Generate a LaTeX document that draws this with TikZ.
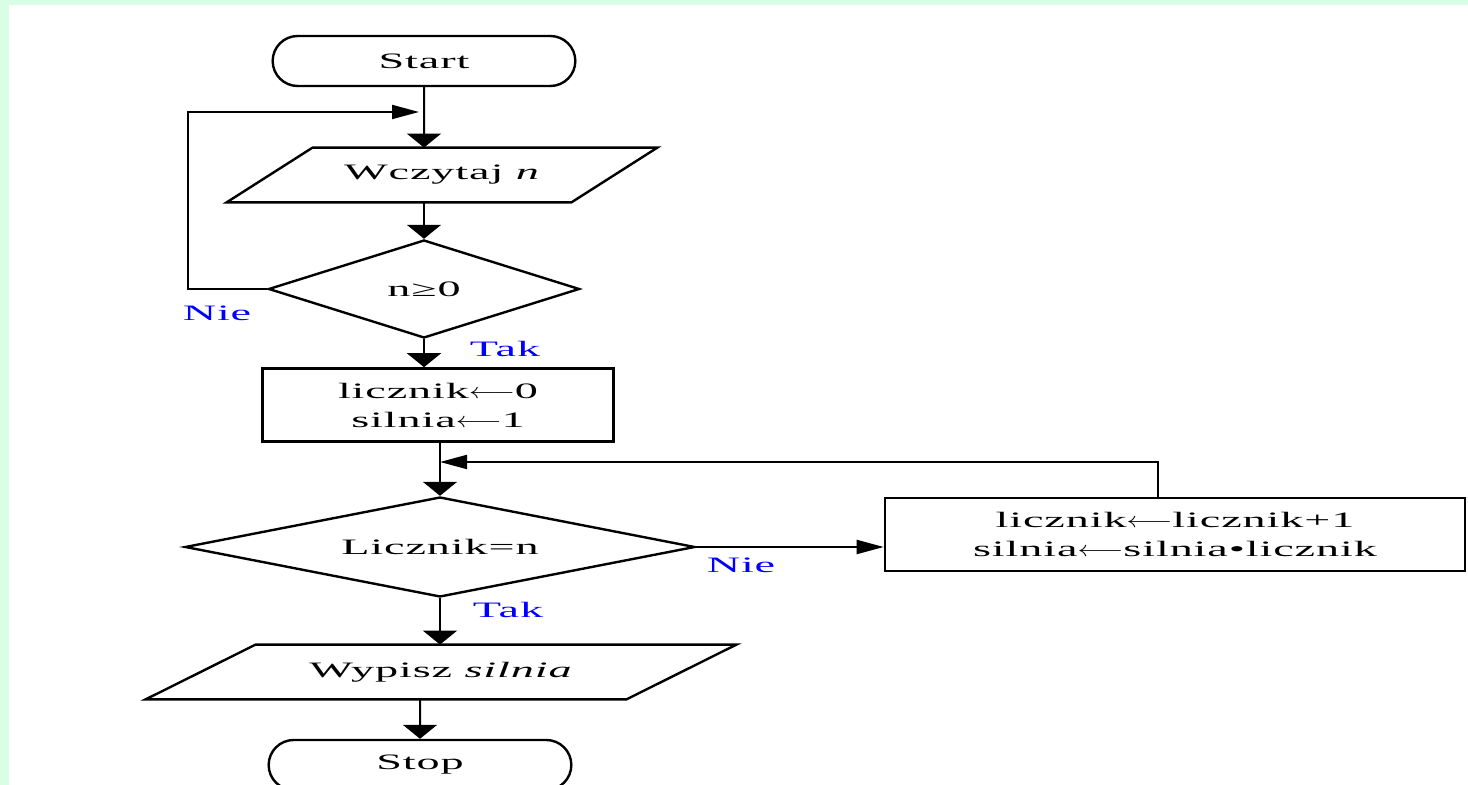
\documentclass[tikz,border=0pt]{standalone}
\usepackage{fontspec}
\setmainfont{Liberation Serif}[FakeStretch=2.1,LetterSpace=4]
\usetikzlibrary{shapes.geometric,shapes.misc,arrows.meta}
\definecolor{mint}{RGB}{216,255,229}
\newcommand{\przyp}{\scalebox{1.3}[1]{$\longleftarrow$}}

\tikzstyle{term}=[draw, rounded rectangle, line width=1.2pt, minimum width=158pt, minimum height=25pt]
\tikzstyle{io}=[minimum height=27pt, inner sep=0pt]
\tikzstyle{ramka}=[line width=1.2pt]
\tikzstyle{proc}=[draw, line width=1.3pt, align=center, minimum height=36.5pt, inner sep=0pt]
\tikzstyle{dec}=[draw, diamond, line width=1.2pt, inner sep=0pt]
\tikzstyle{lbl}=[text=blue]
\tikzstyle{lin}=[line width=1pt]
\tikzstyle{av}=[lin, -{Triangle[length=7pt,width=17pt]}]
\tikzstyle{ah}=[lin, -{Triangle[length=13.5pt,width=7pt]}]

\begin{document}
\begin{tikzpicture}[x=0.5pt, y=-0.5pt, font=\fontsize{11}{14.5}\selectfont]
\useasboundingbox (0,0) rectangle (1468,785);
\clip (0,0) rectangle (1468,785);
\fill[mint] (0,0) rectangle (1468,785);
\fill[white] (9,5) rectangle (1468,785);

\node[term] (start) at (424,61) {Start};
\node[io, minimum width=172pt] (wcz) at (442,175) {Wczytaj \textit{n}};
\draw[ramka] ([xshift=21.5pt]wcz.north west) -- ([xshift=21.5pt]wcz.north east)
  -- ([xshift=-21.5pt]wcz.south east) -- ([xshift=-21.5pt]wcz.south west) -- cycle;
\node[dec, aspect=3.2, minimum width=155.5pt, minimum height=49pt] (d1) at (424,289) {n≥0};
\node[proc, minimum width=175.5pt] (b1) at (438,405) {licznik\przyp0\\silnia\przyp1};
\node[dec, aspect=5.1, minimum width=255pt, minimum height=50pt] (d2) at (440,547) {Licznik=n};
\node[proc, minimum width=290pt] (b2) at (1175,534.5) {licznik\przyp licznik+1\\silnia\przyp silnia\textbullet licznik};
\node[io, minimum width=240pt] (wyp) at (441,672) {Wypisz \textit{silnia}};
\draw[ramka] ([xshift=27.5pt]wyp.north west) -- ([xshift=27.5pt]wyp.north east)
  -- ([xshift=-27.5pt]wyp.south east) -- ([xshift=-27.5pt]wyp.south west) -- cycle;
\node[term] (stop) at (420,765) {Stop};

\node[lbl] (nie1) at (217,313) {Nie};
\node[lbl] (tak1) at (505,349) {Tak};
\node[lbl] (nie2) at (741,565) {Nie};
\node[lbl] (tak2) at (508,610) {Tak};

\coordinate (j1) at (419,112);
\coordinate (j2) at (440,462);

\draw[av] (start) -- (start |- wcz.north);
\draw[av] (d1 |- wcz.south) -- (d1);
\draw[ah] (d1.west) -- ++(-79,0) |- (j1);
\draw[av] (d1) -- (d1 |- b1.north);
\draw[av] (b1.south -| d2) -- (d2);
\draw[ah] ([xshift=-8.5pt]b2.north) |- (j2);
\draw[ah] (d2.east) -- (d2.east -| b2.west);
\draw[av] (d2) -- (d2 |- wyp.north);
\draw[av] (stop |- wyp.south) -- (stop);
\end{tikzpicture}
\end{document}
